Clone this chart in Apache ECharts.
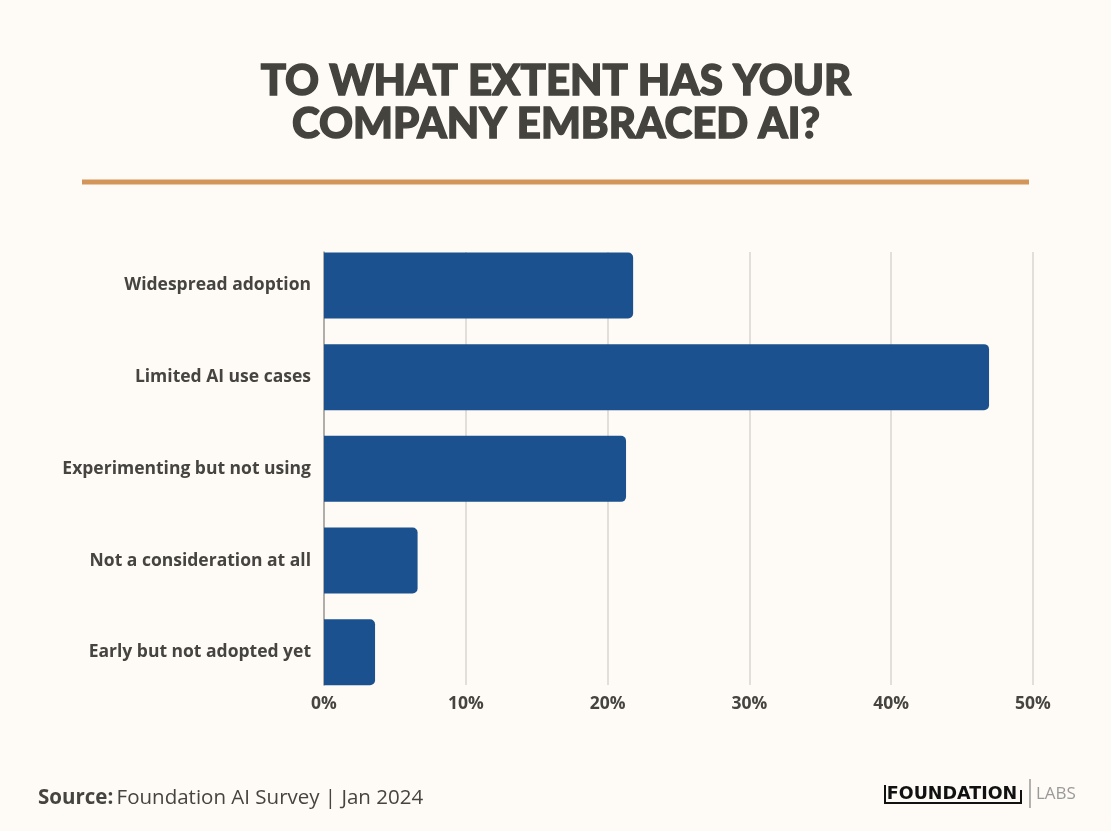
<!DOCTYPE html>
<html>
<head>
<meta charset="utf-8">
<script src="https://cdn.jsdelivr.net/npm/echarts@6/dist/echarts.min.js"></script>
<style>
html,body{margin:0;padding:0;background:#fefaf5;}
#chart{width:1111px;height:831px;}
</style>
</head>
<body>
<div id="chart"></div>
<script>
const categories = [
  "Widespread adoption",
  "Limited AI use cases",
  "Experimenting but not using",
  "Not a consideration at all",
  "Early but not adopted yet"
];
const values = [21.8, 46.9, 21.3, 6.6, 3.6];
const tickLabels = ["0%", "10%", "20%", "30%", "40%", "50%"];
const titleText = "TO WHAT EXTENT HAS YOUR\nCOMPANY EMBRACED AI?";

const chart = echarts.init(document.getElementById('chart'));
const textColor = '#454440';
chart.setOption({
  backgroundColor: '#fefaf5',
  animation: false,
  grid: [
    { left: 324, right: 78, top: 239.6, height: 458.5, containLabel: false },
    { left: 324, right: 78, top: 252, height: 433, containLabel: false }
  ],
  xAxis: [
    {
      gridIndex: 0, type: 'value', min: 0, max: 50, interval: 10,
      axisLine: { show: false }, axisTick: { show: false },
      axisLabel: { show: false }, splitLine: { show: false }
    },
    {
      gridIndex: 1, type: 'value', min: 0, max: 50, interval: 10,
      axisLine: { show: false }, axisTick: { show: false },
      axisLabel: {
        show: true, margin: 10,
        formatter: (v) => tickLabels[Math.round(v / 10)],
        fontFamily: 'Open Sans', fontWeight: 'bold', fontSize: 17.5, color: textColor
      },
      splitLine: { show: true, lineStyle: { color: '#d9d6d1', width: 1.5 } }
    }
  ],
  yAxis: [
    {
      gridIndex: 0, type: 'category', data: categories, inverse: true,
      axisLine: { show: false }, axisTick: { show: false },
      axisLabel: {
        margin: 13,
        fontFamily: 'Open Sans', fontWeight: 'bold', fontSize: 17.5, color: textColor
      }
    },
    {
      gridIndex: 1, type: 'value', min: 0, max: 1,
      axisLine: { show: true, lineStyle: { color: '#a09e9a', width: 1.5 } },
      axisTick: { show: false }, axisLabel: { show: false }, splitLine: { show: false }
    }
  ],
  series: [
    {
      type: 'bar', xAxisIndex: 0, yAxisIndex: 0,
      data: values,
      barWidth: 66,
      itemStyle: { color: '#1b518e', borderRadius: [0, 5, 5, 0] },
      z: 3
    }
  ],
  graphic: [
    {
      type: 'text', x: 556, y: 60,
      style: {
        text: titleText, textAlign: 'center', textVerticalAlign: 'top',
        fontFamily: 'Lato', fontWeight: 900, fontSize: 42, lineHeight: 43,
        fill: '#44433e', stroke: '#44433e', lineWidth: 1.4
      }
    },
    { type: 'rect', shape: { x: 82, y: 179.5, width: 947, height: 5 }, style: { fill: '#d4955a' } },
    {
      type: 'text', left: 38, top: 788,
      style: {
        rich: {
          b: { fontFamily: 'Open Sans', fontWeight: 'bold', fontSize: 20.5, fill: '#454440' },
          n: { fontFamily: 'Open Sans', fontSize: 20.5, fill: '#454440' }
        },
        text: '{b|Source:} {n|Foundation AI Survey | Jan 2024}'
      }
    },
    { type: 'text', x: 952, y: 794, style: { text: 'FOUNDATION', textAlign: 'center', textVerticalAlign: 'middle', fontFamily: 'DejaVu Sans', fontWeight: 'bold', fontSize: 17.5, fill: '#111' } },
    { type: 'line', shape: { x1: 885, y1: 785, x2: 885, y2: 804 }, style: { stroke: '#111', lineWidth: 2 } },
    { type: 'line', shape: { x1: 884, y1: 803, x2: 1022, y2: 803 }, style: { stroke: '#111', lineWidth: 2 } },
    { type: 'line', shape: { x1: 1021, y1: 790, x2: 1021, y2: 804 }, style: { stroke: '#111', lineWidth: 2 } },
    { type: 'line', shape: { x1: 1030, y1: 779, x2: 1030, y2: 808 }, style: { stroke: '#9a9a9a', lineWidth: 1.5 } },
    { type: 'text', x: 1036, y: 794, style: { text: 'LABS', textVerticalAlign: 'middle', fontFamily: 'Open Sans', fontSize: 17, fill: '#9a9a9a' } }
  ]
});
</script>
</body>
</html>
